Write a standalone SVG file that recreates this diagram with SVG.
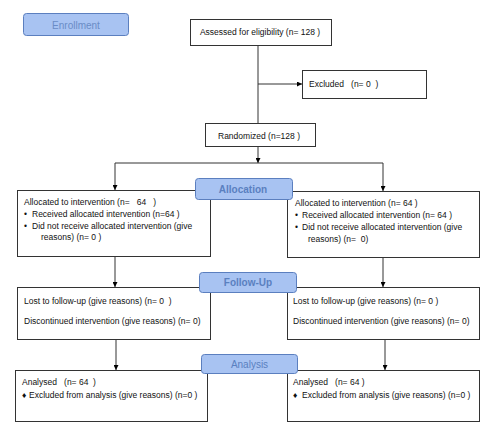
<svg xmlns="http://www.w3.org/2000/svg" width="489" height="428" viewBox="0 0 489 428">
<defs>
<marker id="ah" viewBox="0 0 10 10" refX="10" refY="5" markerWidth="5" markerHeight="5" orient="auto" markerUnits="userSpaceOnUse"><path d="M0,0 L10,5 L0,10 z" fill="#000"/></marker>
</defs>
<style>
.box{fill:#fff;stroke:#333;stroke-width:1}
.lab{fill:#a8c3f2;stroke:#5b7fbf;stroke-width:1}
.lt{font-family:"Liberation Sans",Arial,sans-serif;font-size:10px;fill:#5a80c0;text-anchor:middle;dominant-baseline:central}
.t{font-family:"Liberation Sans",Arial,sans-serif;font-size:8.5px;fill:#111;dominant-baseline:central}
.c{fill:none;stroke:#333;stroke-width:1}
</style>
<g id="connectors">
<path class="c" d="M258,45 V123"/>
<path class="c" d="M258,84 H302" marker-end="url(#ah)"/>
<path class="c" d="M258,146 V163" marker-end="url(#ah)"/>
<path class="c" d="M115,163 H383"/>
<path class="c" d="M115,163 V190" marker-end="url(#ah)"/>
<path class="c" d="M383,163 V191" marker-end="url(#ah)"/>
<path class="c" d="M115,256 V287" marker-end="url(#ah)"/>
<path class="c" d="M383,257 V287" marker-end="url(#ah)"/>
<path class="c" d="M116,339 V370" marker-end="url(#ah)"/>
<path class="c" d="M385,339 V370" marker-end="url(#ah)"/>
</g>
<g id="enrollment"><rect class="lab" x="23.5" y="13.5" width="105" height="22" rx="3"/><text class="lt" x="76" y="25" font-size="11" style="fill:#6a8cc6">Enrollment</text></g>
<g id="assessed"><rect class="box" x="190.5" y="19.5" width="141" height="26"/><text class="t" x="260" y="32" text-anchor="middle">Assessed for eligibility (n= 128 )</text></g>
<g id="excluded"><rect class="box" x="302.5" y="70.5" width="124" height="28"/><text class="t" x="309" y="84" xml:space="preserve">Excluded   (n= 0  )</text></g>
<g id="randomized"><rect class="box" x="205.5" y="123.5" width="110" height="23"/><text class="t" x="218" y="136">Randomized (n=128 )</text></g>
<g id="alloc-left"><rect class="box" x="17.5" y="190.5" width="193" height="66"/>
<text class="t" x="24" y="202" xml:space="preserve">Allocated to intervention (n=   64   )</text>
<text class="t" x="24" y="214">•</text><text class="t" x="32" y="214">Received allocated intervention (n=64 )</text>
<text class="t" x="24" y="226">•</text><text class="t" x="32" y="226">Did not receive allocated intervention (give</text>
<text class="t" x="41" y="237">reasons) (n= 0 )</text></g>
<g id="alloc-right"><rect class="box" x="287.5" y="191.5" width="192" height="66"/>
<text class="t" x="295" y="203">Allocated to intervention (n= 64 )</text>
<text class="t" x="295" y="215">•</text><text class="t" x="302" y="215">Received allocated intervention (n= 64 )</text>
<text class="t" x="295" y="227">•</text><text class="t" x="302" y="227">Did not receive allocated intervention (give</text>
<text class="t" x="308" y="239" xml:space="preserve">reasons) (n=  0)</text></g>
<g id="allocation"><rect class="lab" x="195.5" y="178.5" width="97" height="21" rx="3"/><text class="lt" x="243" y="189" font-weight="bold">Allocation</text></g>
<g id="follow-left"><rect class="box" x="17.5" y="287.5" width="193" height="52"/>
<text class="t" x="24" y="301" xml:space="preserve">Lost to follow-up (give reasons) (n= 0  )</text>
<text class="t" x="24" y="321">Discontinued intervention (give reasons) (n= 0)</text></g>
<g id="follow-right"><rect class="box" x="287.5" y="287.5" width="192" height="52"/>
<text class="t" x="293" y="301">Lost to follow-up (give reasons) (n= 0 )</text>
<text class="t" x="293" y="321">Discontinued intervention (give reasons) (n= 0)</text></g>
<g id="followup"><rect class="lab" x="199.5" y="272.5" width="97" height="20" rx="3"/><text class="lt" x="248" y="282.5" font-weight="bold">Follow-Up</text></g>
<g id="analysis-left"><rect class="box" x="15.5" y="370.5" width="192" height="51"/>
<text class="t" x="22" y="382" xml:space="preserve">Analysed   (n= 64  )</text>
<text class="t" x="22" y="395">♦</text><text class="t" x="29" y="395">Excluded from analysis (give reasons) (n=0 )</text></g>
<g id="analysis-right"><rect class="box" x="287.5" y="370.5" width="192" height="51"/>
<text class="t" x="293" y="382" xml:space="preserve">Analysed   (n= 64 )</text>
<text class="t" x="293" y="395">♦</text><text class="t" x="302" y="395">Excluded from analysis (give reasons) (n=0 )</text></g>
<g id="analysis"><rect class="lab" x="201.5" y="354.5" width="96" height="19" rx="3"/><text class="lt" x="249.5" y="364">Analysis</text></g>
</svg>
